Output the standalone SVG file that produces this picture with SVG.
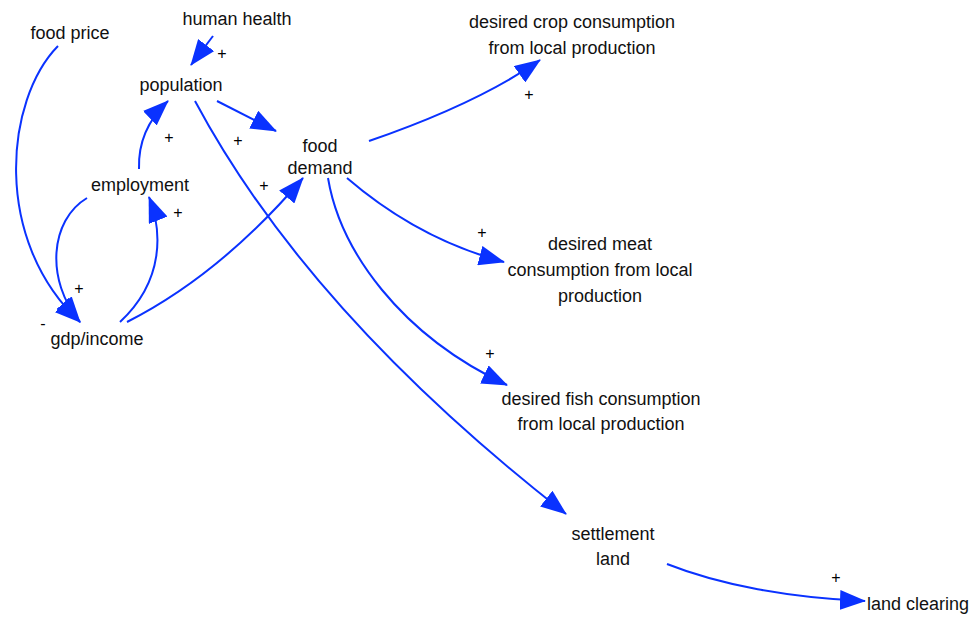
<svg xmlns="http://www.w3.org/2000/svg" width="973" height="620" viewBox="0 0 973 620">
  <defs>
    <marker id="arrow" markerUnits="userSpaceOnUse" markerWidth="26" markerHeight="20" viewBox="0 0 26 20" refX="25" refY="10" orient="auto">
      <path d="M0,0 L26,10 L0,20 z" fill="#0a32ff"/>
    </marker>
  </defs>
  <style>
    .lbl { font-family: "Liberation Sans", Arial, sans-serif; font-size: 18px; fill: #111; text-anchor: middle; }
    .sgn { font-family: "Liberation Sans", Arial, sans-serif; font-size: 16px; fill: #000; text-anchor: middle; }
    .link { fill: none; stroke: #0a32ff; stroke-width: 2; marker-end: url(#arrow); }
  </style>
  <rect width="973" height="620" fill="#ffffff"/>

  <g id="connectors">
    <path class="link" d="M213,36 L191,65"/>
    <path class="link" d="M58,46 C5,100 -8,240 80,322"/>
    <path class="link" d="M87,198 C50,220 45,280 80,322"/>
    <path class="link" d="M139,169 C138,140 150,118 168,101"/>
    <path class="link" d="M120,322 C165,280 162,230 149,197"/>
    <path class="link" d="M127,322 C190,290 250,240 303,178"/>
    <path class="link" d="M217,101 L276,131"/>
    <path class="link" d="M195,101 C280,260 420,400 566,514"/>
    <path class="link" d="M369,141 C430,120 490,95 540,60"/>
    <path class="link" d="M347,178 C390,215 440,245 504,262"/>
    <path class="link" d="M328,178 C340,250 400,335 507,385"/>
    <path class="link" d="M667,564 C720,585 790,598 865,601"/>
  </g>

  <g id="polarities">
    <text class="sgn" x="222" y="59">+</text>
    <text class="sgn" x="169" y="143">+</text>
    <text class="sgn" x="238" y="146">+</text>
    <text class="sgn" x="264" y="191">+</text>
    <text class="sgn" x="178" y="218">+</text>
    <text class="sgn" x="79" y="294">+</text>
    <text class="sgn" x="43" y="329">-</text>
    <text class="sgn" x="529" y="100">+</text>
    <text class="sgn" x="482" y="238">+</text>
    <text class="sgn" x="490" y="359">+</text>
    <text class="sgn" x="836" y="583">+</text>
  </g>

  <g id="food-price"><text class="lbl" x="70" y="39">food price</text></g>
  <g id="human-health"><text class="lbl" x="237" y="25">human health</text></g>
  <g id="population"><text class="lbl" x="181" y="91">population</text></g>
  <g id="food-demand">
    <text class="lbl" x="320" y="152">food</text>
    <text class="lbl" x="320" y="174">demand</text>
  </g>
  <g id="employment"><text class="lbl" x="140" y="191">employment</text></g>
  <g id="gdp-income"><text class="lbl" x="97" y="345">gdp/income</text></g>
  <g id="crop-consumption">
    <text class="lbl" x="572" y="28">desired crop consumption</text>
    <text class="lbl" x="572" y="54">from local production</text>
  </g>
  <g id="meat-consumption">
    <text class="lbl" x="600" y="250">desired meat</text>
    <text class="lbl" x="600" y="276">consumption from local</text>
    <text class="lbl" x="600" y="302">production</text>
  </g>
  <g id="fish-consumption">
    <text class="lbl" x="601" y="405">desired fish consumption</text>
    <text class="lbl" x="601" y="430">from local production</text>
  </g>
  <g id="settlement-land">
    <text class="lbl" x="613" y="540">settlement</text>
    <text class="lbl" x="613" y="565">land</text>
  </g>
  <g id="land-clearing"><text class="lbl" x="918" y="610">land clearing</text></g>
</svg>
